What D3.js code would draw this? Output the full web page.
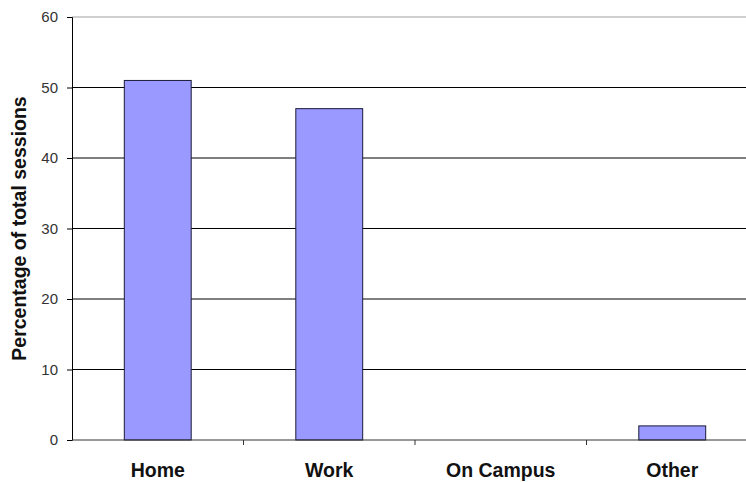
<!DOCTYPE html>
<html>
<head>
<meta charset="utf-8">
<script src="https://cdn.jsdelivr.net/npm/d3@7"></script>
<style>
  body { margin: 0; background: #fff; overflow: hidden; }
  svg { display: block; font-family: "Liberation Sans", Arial, sans-serif; }
</style>
</head>
<body>
<div id="wrapper"></div>
<script>
const categories = ["Home", "Work", "On Campus", "Other"];
const values = [51, 47, 0, 2];
const yTicks = [0, 10, 20, 30, 40, 50, 60];

const width = 746;
const height = 482;
const margin = { top: 17, right: -12, bottom: 42, left: 72 };
const boundedWidth = width - margin.left - margin.right;
const boundedHeight = height - margin.top - margin.bottom;

const svg = d3.select("#wrapper").append("svg")
  .attr("width", width)
  .attr("height", height);

const bounds = svg.append("g")
  .attr("transform", `translate(${margin.left},${margin.top})`);

const xScale = d3.scaleBand()
  .domain(categories)
  .range([0, boundedWidth])
  .paddingInner(0.61)
  .paddingOuter(0.305);

const band = d3.scaleBand().domain(categories).range([0, boundedWidth]);

const yScale = d3.scaleLinear()
  .domain([0, 60])
  .range([boundedHeight, 0]);

// gridlines
bounds.selectAll(".grid")
  .data(yTicks.filter(d => d > 0))
  .join("line")
  .attr("class", "grid")
  .attr("x1", 0)
  .attr("x2", boundedWidth)
  .attr("y1", d => yScale(d))
  .attr("y2", d => yScale(d))
  .attr("stroke", d => d === 60 ? "#a0a0a0" : "#000")
  .attr("stroke-width", 1);

// bars
bounds.selectAll(".bar")
  .data(categories.map((c, i) => ({ c, v: values[i] })).filter(d => d.v > 0))
  .join("rect")
  .attr("class", "bar")
  .attr("x", d => xScale(d.c))
  .attr("y", d => yScale(d.v))
  .attr("width", xScale.bandwidth())
  .attr("height", d => boundedHeight - yScale(d.v))
  .attr("fill", "#9999ff")
  .attr("stroke", "#1a1a3a")
  .attr("stroke-width", 1);

// y axis
const yAxis = bounds.append("g")
  .call(d3.axisLeft(yScale).tickValues(yTicks).tickSize(5).tickPadding(9));
yAxis.select(".domain").attr("stroke", "#000");
yAxis.selectAll(".tick line").attr("stroke", "#000");
yAxis.selectAll(".tick text")
  .attr("fill", "#333")
  .style("font-size", "15px");

// x axis
const xAxis = bounds.append("g")
  .attr("transform", `translate(0,${boundedHeight})`);
xAxis.append("line")
  .attr("x1", 0).attr("x2", boundedWidth)
  .attr("stroke", "#333");
xAxis.selectAll(".xtick")
  .data(categories.slice(1))
  .join("line")
  .attr("class", "xtick")
  .attr("x1", d => band(d))
  .attr("x2", d => band(d))
  .attr("y1", 0)
  .attr("y2", 5)
  .attr("stroke", "#333");
xAxis.selectAll(".xlabel")
  .data(categories)
  .join("text")
  .attr("class", "xlabel")
  .attr("x", d => xScale(d) + xScale.bandwidth() / 2)
  .attr("y", 37)
  .attr("text-anchor", "middle")
  .attr("fill", "#111")
  .style("font-size", "19.5px")
  .style("font-weight", "bold")
  .text(d => d);

// y label
svg.append("text")
  .attr("transform", `translate(26,${margin.top + boundedHeight / 2}) rotate(-90)`)
  .attr("text-anchor", "middle")
  .attr("fill", "#111")
  .style("font-size", "19.5px")
  .style("font-weight", "bold")
  .text("Percentage of total sessions");
</script>
</body>
</html>
